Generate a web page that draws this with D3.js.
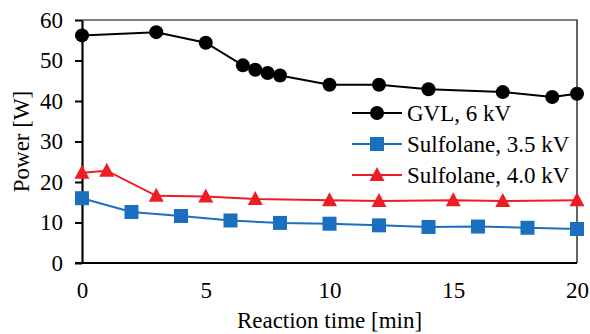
<!DOCTYPE html>
<html>
<head>
<meta charset="utf-8">
<script src="https://cdn.jsdelivr.net/npm/d3@7"></script>
<style>
	body { margin: 0; background: #fff; }
	svg, svg text { font-family: "Liberation Serif", "Times New Roman", serif; }
</style>
</head>
<body>
<svg id="chart" width="590" height="334"></svg>
<script>
// data
const gvl_time = [0, 3, 5, 6.5, 7, 7.5, 8, 10, 12, 14, 17, 19, 20];
const gvl_power = [56.2, 57.0, 54.4, 48.8, 47.7, 46.9, 46.3, 44.0, 44.0, 42.9, 42.2, 41.0, 41.8];

const sulf35_time = [0, 2, 4, 6, 8, 10, 12, 14, 16, 18, 20];
const sulf35_power = [16.0, 12.6, 11.6, 10.5, 9.9, 9.7, 9.3, 8.9, 9.0, 8.7, 8.4];

const sulf40_time = [0, 1, 3, 5, 7, 10, 12, 15, 17, 20];
const sulf40_power = [22.3, 22.8, 16.6, 16.4, 15.8, 15.5, 15.3, 15.5, 15.3, 15.5];

const x_ticks = [0, 5, 10, 15, 20];
const y_ticks = [0, 10, 20, 30, 40, 50, 60];

const series = [
	{ name: "GVL, 6 kV", time: gvl_time, power: gvl_power, color: "#000000", marker: "circle" },
	{ name: "Sulfolane, 3.5 kV", time: sulf35_time, power: sulf35_power, color: "#1a6fbf", marker: "square" },
	{ name: "Sulfolane, 4.0 kV", time: sulf40_time, power: sulf40_power, color: "#ee1c25", marker: "triangle" }
];

const svg = d3.select("#chart");
const plot_left = 82, plot_right = 577, plot_top = 20, plot_bottom = 263;

const x = d3.scaleLinear().domain([0, 20]).range([plot_left, plot_right]);
const y = d3.scaleLinear().domain([0, 60]).range([plot_bottom, plot_top]);

// plot area border (top and right)
svg.append("path")
	.attr("d", `M${plot_left},${plot_top}H${plot_right}V${plot_bottom}`)
	.attr("fill", "none")
	.attr("stroke", "#000")
	.attr("stroke-width", 1.2);

// y axis
const y_axis = svg.append("g")
	.attr("transform", `translate(${plot_left},0)`)
	.call(d3.axisLeft(y).tickValues(y_ticks).tickSize(7).tickSizeOuter(0).tickPadding(12));
y_axis.select(".domain").attr("stroke-width", 2.2);
y_axis.selectAll(".tick line").attr("stroke-width", 2);
y_axis.selectAll("text").style("font-size", "23px").attr("fill", "#000");

// x axis (no tick marks)
const x_axis = svg.append("g")
	.attr("transform", `translate(0,${plot_bottom})`)
	.call(d3.axisBottom(x).tickValues(x_ticks).tickSize(0).tickSizeOuter(0).tickPadding(19));
x_axis.select(".domain").attr("stroke-width", 2.2).attr("d", `M${plot_left - 7},0H${plot_right}`);
x_axis.selectAll("text").style("font-size", "23px").attr("fill", "#000");

// axis titles
svg.append("text")
	.attr("x", (plot_left + plot_right) / 2)
	.attr("y", 328)
	.attr("text-anchor", "middle")
	.style("font-size", "23px")
	.text("Reaction time [min]");

svg.append("text")
	.attr("transform", `translate(29,${(plot_top + plot_bottom) / 2}) rotate(-90)`)
	.attr("text-anchor", "middle")
	.style("font-size", "23px")
	.text("Power [W]");

function drawMarker(g, type, color) {
	if (type === "circle") {
		g.append("circle").attr("r", 7).attr("fill", color);
	} else if (type === "square") {
		g.append("rect").attr("x", -7).attr("y", -7).attr("width", 14).attr("height", 14)
			.attr("fill", color);
	} else {
		g.append("path").attr("d", "M0,-8L7.5,6L-7.5,6Z").attr("fill", color);
	}
}

const line = d3.line().x(d => x(d[0])).y(d => y(d[1]));

series.forEach(s => {
	const pts = s.time.map((t, i) => [t, s.power[i]]);
	svg.append("path")
		.datum(pts)
		.attr("d", line)
		.attr("fill", "none")
		.attr("stroke", s.color)
		.attr("stroke-width", 2);
	svg.append("g").selectAll("g")
		.data(pts)
		.enter()
		.append("g")
		.attr("transform", d => `translate(${x(d[0])},${y(d[1])})`)
		.each(function () { drawMarker(d3.select(this), s.marker, s.color); });
});

// legend
const legend_y = [113, 144, 175];
series.forEach((s, i) => {
	const g = svg.append("g").attr("transform", `translate(352,${legend_y[i]})`);
	g.append("line").attr("x1", 0).attr("x2", 50)
		.attr("stroke", s.color).attr("stroke-width", 2);
	drawMarker(g.append("g").attr("transform", "translate(25,0)"), s.marker, s.color);
	g.append("text")
		.attr("x", 55)
		.attr("dy", "0.35em")
		.style("font-size", "23px")
		.text(s.name);
});
</script>
</body>
</html>
